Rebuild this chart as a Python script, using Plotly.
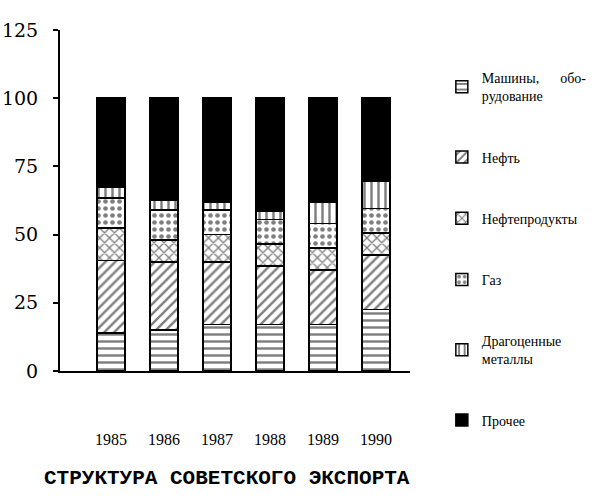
import plotly.graph_objects as go

years = ["1985", "1986", "1987", "1988", "1989", "1990"]
machinery = [14, 15, 17, 17, 17, 22.5]
oil = [26.5, 25, 23, 21.5, 20, 20]
oil_products = [12, 8, 10, 8, 8, 8]
gas = [11, 11, 9, 9, 9, 9]
metals = [4, 3.5, 3, 3, 8, 10]
other = [32.5, 37.5, 38, 41.5, 38, 30.5]

series_names = ["Машины,      обо-<br>рудование", "Нефть", "Нефтепродукты", "Газ",
                "Драгоценные<br>металлы", "Прочее"]
series_values = [machinery, oil, oil_products, gas, metals, other]
patterns = ["-", "/", "x", ".", "|", ""]
y_ticks = [0, 25, 50, 75, 100, 125]

fig = go.Figure()
for i, (name, vals, pat) in enumerate(zip(series_names, series_values, patterns)):
    fig.add_trace(go.Bar(
        x=list(range(len(years))), y=vals, name=name, width=0.53,
        legendgroup=str(i),
        marker=dict(
            color="black" if pat == "" else "white",
            line=dict(color="black", width=1.5),
            pattern=dict(shape=pat, fgcolor="black", bgcolor="white",
                         size=7, solidity=0.35) if pat else None,
        ),
    ))

fig.update_layout(
    width=600, height=501,
    barmode="stack",
    plot_bgcolor="white", paper_bgcolor="white",
    margin=dict(l=60, r=190, t=30, b=130, autoexpand=False),
    font=dict(family="Liberation Serif", color="black"),
    showlegend=True,
    legend=dict(
        x=1.091, y=0.906, xanchor="left", yanchor="top",
        traceorder="grouped", tracegroupgap=40, maxheight=480,
        font=dict(size=14, family="Liberation Serif"),
        bgcolor="rgba(0,0,0,0)",
    ),
    xaxis=dict(
        range=[-0.96, 5.64], tickmode="array",
        tickvals=list(range(len(years))), ticktext=years,
        showline=True, linecolor="black", linewidth=2,
        ticks="", showgrid=False, zeroline=False, automargin=False,
        ticklabelstandoff=53,
        tickfont=dict(size=16, family="Liberation Serif"),
    ),
    yaxis=dict(
        range=[0, 125], tickmode="array", tickvals=y_ticks,
        showline=True, linecolor="black", linewidth=2,
        ticks="outside", ticklen=5, tickwidth=1.5, tickcolor="black",
        showgrid=False, zeroline=False, automargin=False,
        tickfont=dict(size=19, family="DejaVu Serif"),
        ticklabelstandoff=11,
    ),
    annotations=[dict(
        text="<b>СТРУКТУРА СОВЕТСКОГО ЭКСПОРТА</b>",
        xref="paper", yref="paper", x=-0.052, y=-0.314,
        xanchor="left", yanchor="middle", showarrow=False,
        font=dict(size=21, family="Liberation Mono", color="black"),
    )],
)

fig.write_html("out.html", config={"displayModeBar": False},
               post_script="document.body.style.margin='0';")
